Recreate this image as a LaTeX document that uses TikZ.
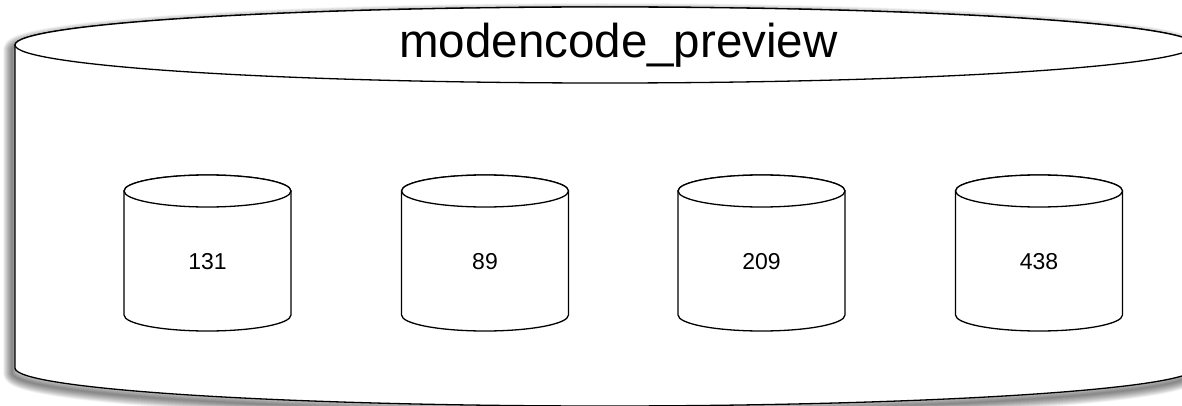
\documentclass[tikz,border=0pt]{standalone}
\usepackage{fontspec}
\setmainfont{Liberation Sans}
\tikzset{
  outline/.style={draw=black, line width=1.3pt, fill=white},
  shadowline/.style={draw=black, opacity=0.03, line join=round},
  title/.style={font=\fontsize{47.5}{50}\selectfont, anchor=base, inner sep=0pt},
  count/.style={font=\fontsize{23}{25}\selectfont, inner sep=0pt},
}
\begin{document}
\begin{tikzpicture}[x=1pt,y=1pt]
\useasboundingbox (0,0) rectangle (1182,405);
\clip (0,0) rectangle (1182,405);
\fill[white] (0,0) rectangle (1182,405);
% shadow of the large cylinder
\foreach \w in {1,2,...,18}{
  \draw[shadowline, line width=\w pt, shift={(-3,-5)}]
    (15,360) -- (15,37) arc[start angle=180,end angle=360,x radius=590,y radius=38]
    -- (1195,360) arc[start angle=0,end angle=180,x radius=590,y radius=38] -- cycle;
}
% large cylinder
\draw[outline]
  (15,360) -- (15,37) arc[start angle=180,end angle=360,x radius=590,y radius=38]
  -- (1195,360) arc[start angle=0,end angle=180,x radius=590,y radius=38] -- cycle;
\draw[outline] (605,360) ellipse[x radius=590,y radius=38];
\node[title] (title) at (618.5,347) {modencode\_preview};
% small cylinders
\foreach \cx/\lab/\nm in {207.5/131/a,485/89/b,761.5/209/c,1039/438/d}{
  \draw[outline]
    (\cx-83.5,214) -- (\cx-83.5,90) arc[start angle=180,end angle=360,x radius=83.5,y radius=16]
    -- (\cx+83.5,214) arc[start angle=0,end angle=180,x radius=83.5,y radius=16] -- cycle;
  \draw[outline] (\cx,214) ellipse[x radius=83.5,y radius=16];
  \node[count] (\nm) at (\cx,143) {\lab};
}
\end{tikzpicture}
\end{document}
